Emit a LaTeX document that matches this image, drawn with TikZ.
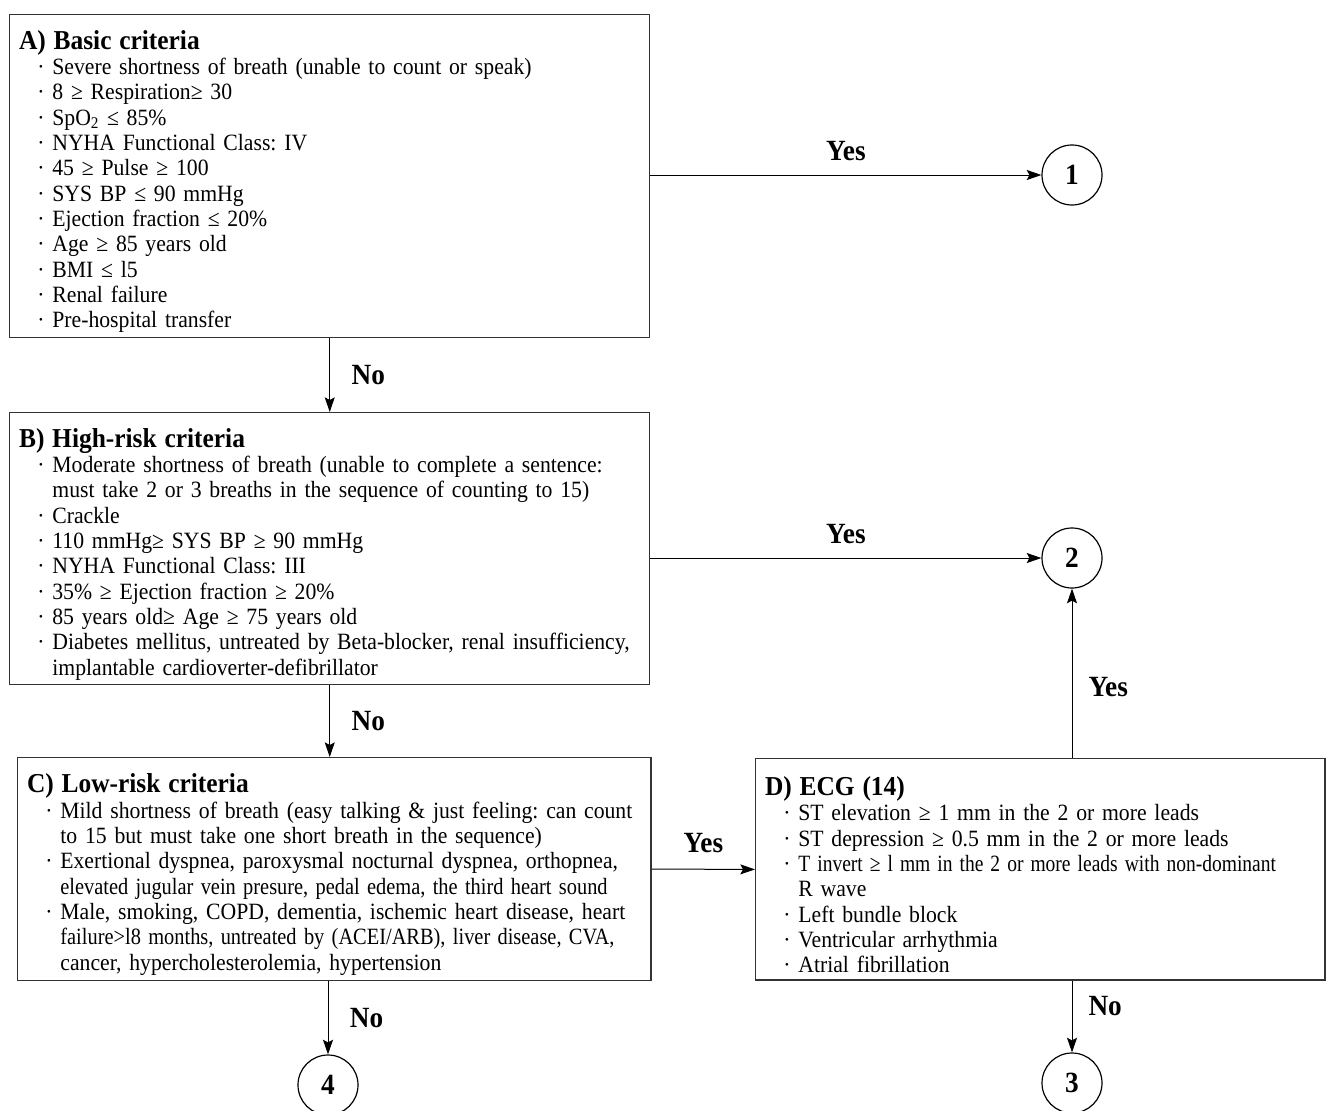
\documentclass[tikz,border=0pt]{standalone}
\usepackage{fontspec}
\setmainfont[FakeStretch=0.93]{Liberation Serif}
\usetikzlibrary{arrows.meta}

\newcommand{\crithead}[1]{{\fontsize{20.5}{24}\selectfont\bfseries\rule{0pt}{22.5pt}#1\par}}
\newcommand{\critem}[1]{{\leftskip=25pt\noindent\llap{·\ }#1\par}}
\newcommand{\squeeze}[2]{\scalebox{#1}[1]{#2}}

\tikzset{
  critbox/.style = {draw = black!80, line width = 1.1pt, anchor = north west, align = left,
    inner xsep = 7pt, inner ysep = 3pt, font = \fontsize{17.5}{19}\selectfont\frenchspacing},
  endpt/.style = {draw, circle, minimum size = 45pt, inner sep = 0pt, line width = 0.9pt,
    font = \fontsize{22}{24}\selectfont\bfseries},
  flow/.style = {line width = 0.75pt, -{Stealth[length = 11pt, width = 7.5pt, inset = 2pt]}},
  ans/.style = {inner sep = 2pt, font = \fontsize{22}{24}\selectfont\bfseries}
}

\begin{document}
\begin{tikzpicture}[x = 0.75pt, y = -0.75pt]
%\draw [very thin, color = gray](0, 0) grid [step = 100] (1327, 1110);
\useasboundingbox (0, 0) rectangle (1327, 1110);
\node [critbox, text width = 466pt, minimum height = 242pt] (A) at (9, 14) {%
\crithead{A) Basic criteria}
\critem{Severe shortness of breath (unable to count or speak)}
\critem{8 ≥ Respiration≥ 30}
\critem{SpO\textsubscript{2} ≤ 85\%}
\critem{NYHA Functional Class: IV}
\critem{45 ≥ Pulse ≥ 100}
\critem{SYS BP ≤ 90 mmHg}
\critem{Ejection fraction ≤ 20\%}
\critem{Age ≥ 85 years old}
\critem{BMI ≤ l5}
\critem{Renal failure}
\critem{Pre-hospital transfer}};
\node [critbox, text width = 466pt, minimum height = 204pt] (B) at (9, 412) {%
\crithead{B) High-risk criteria}
\critem{Moderate shortness of breath (unable to complete a sentence:\newline must take 2 or 3 breaths in the sequence of counting to 15)}
\critem{Crackle}
\critem{110 mmHg≥ SYS BP ≥ 90 mmHg}
\critem{NYHA Functional Class: III}
\critem{35\% ≥ Ejection fraction ≥ 20\%}
\critem{85 years old≥ Age ≥ 75 years old}
\critem{Diabetes mellitus, untreated by Beta-blocker, renal insufficiency,\newline implantable cardioverter-defibrillator}};
\node [critbox, text width = 461pt, minimum height = 167pt] (C) at (17, 757) {%
\crithead{C) Low-risk criteria}
\critem{Mild shortness of breath (easy talking \& just feeling: can count\newline to 15 but must take one short breath in the sequence)}
\critem{Exertional dyspnea, paroxysmal nocturnal dyspnea, orthopnea,\newline \squeeze{0.94}{elevated jugular vein presure, pedal edema, the third heart sound}}
\critem{Male, smoking, COPD, dementia, ischemic heart disease, heart\newline \squeeze{0.94}{failure>l8 months, untreated by (ACEI/ARB), liver disease, CVA,}\newline cancer, hypercholesterolemia, hypertension}};
\node [critbox, text width = 413pt, minimum height = 166pt] (D) at (755, 758) {%
\crithead{D) ECG (14)}
\critem{ST elevation ≥ 1 mm in the 2 or more leads}
\critem{ST depression ≥ 0.5 mm in the 2 or more leads}
\critem{\squeeze{0.9}{T invert ≥ l mm in the 2 or more leads with non-dominant}\newline R wave}
\critem{Left bundle block}
\critem{Ventricular arrhythmia}
\critem{Atrial fibrillation}};
% outcomes
\node [endpt] (c1) at (1072, 175) {1};
\node [endpt] (c2) at (1072, 558) {2};
\node [endpt] (c3) at (1072, 1083) {3};
\node [endpt] (c4) at (328, 1085) {4};
% arrows
\draw [flow] (A.east |- c1) to node [ans, above = 8pt] {Yes} (c1);
\draw [flow] (A.south) to node [ans, right = 14pt] {No} (B.north);
\draw [flow] (B.east |- c2) to node [ans, above = 8pt] {Yes} (c2);
\draw [flow] (B.south) to node [ans, right = 14pt] {No} (B.south |- C.north);
\draw [flow] (C.east) to node [ans, above = 10pt] {Yes} (D.west);
\draw [flow] (c4 |- C.south) to node [ans, right = 14pt] {No} (c4);
\draw [flow] (c2 |- D.north) to node [ans, right = 10pt, pos = 0.42] {Yes} (c2);
\draw [flow] (c3 |- D.south) to node [ans, right = 10pt, pos = 0.35] {No} (c3);
\end{tikzpicture}
\end{document}
